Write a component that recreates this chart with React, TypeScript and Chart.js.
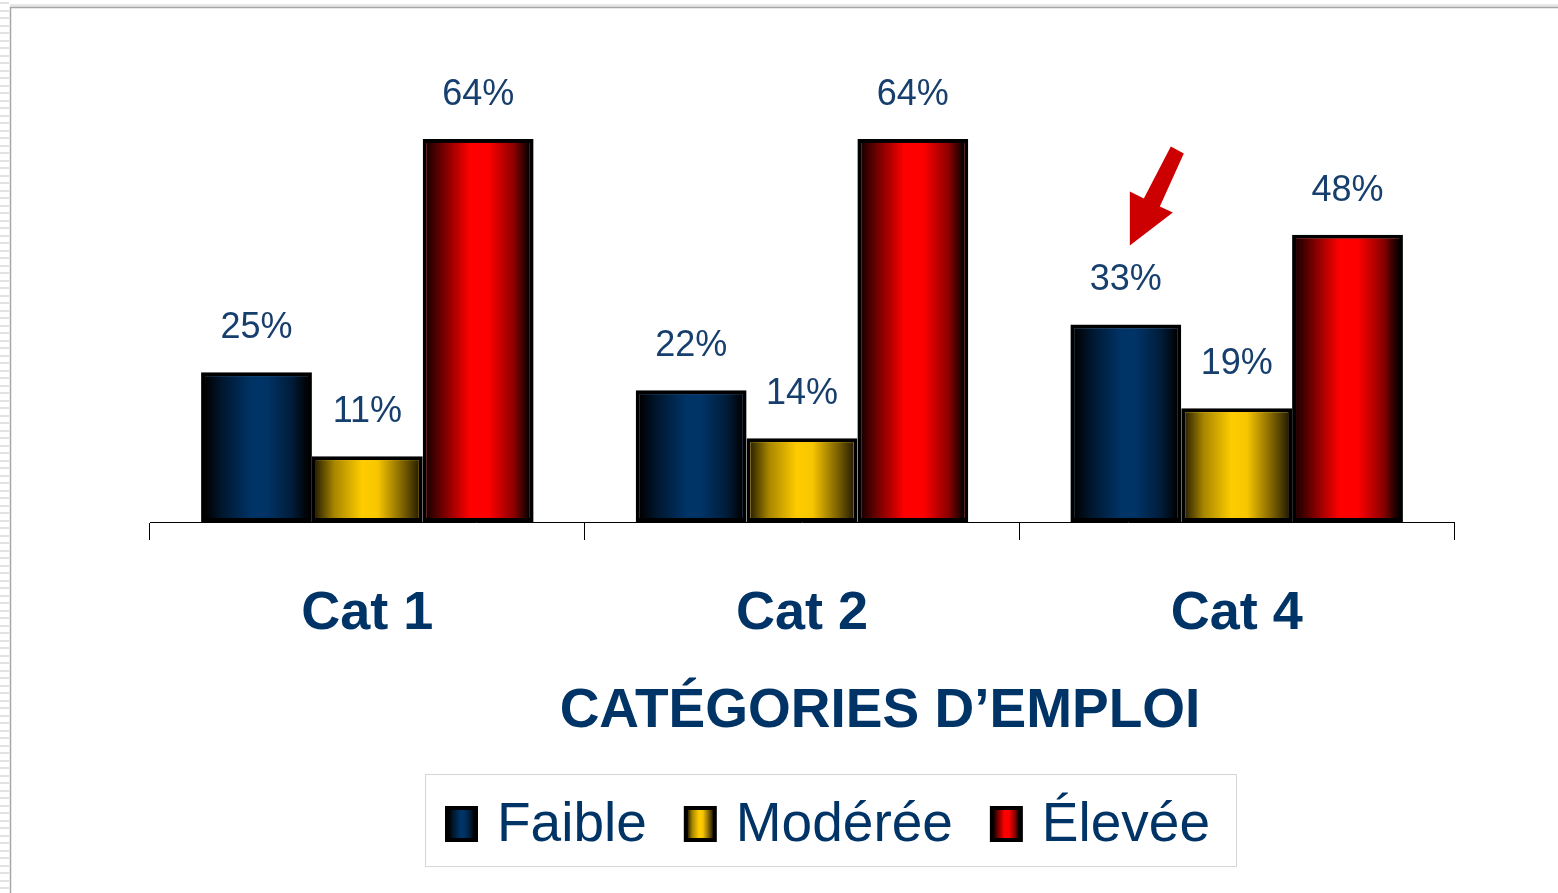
import React, { useEffect, useRef } from "react";
import { Chart, registerables } from "chart.js";

Chart.register(...registerables);

const categories = ["Cat 1", "Cat 2", "Cat 4"];
const seriesNames = ["Faible", "Modérée", "Élevée"];
const faible = [25, 22, 33];
const moderee = [11, 14, 19];
const elevee = [64, 64, 48];
const axisTitle = "CATÉGORIES D’EMPLOI";

const FONT = '"Liberation Sans", Arial, Helvetica, sans-serif';
const NAVY = "#003366";
const LABEL_COLOR = "#173f6d";
const BORDER = 4;

const solidColors = ["#003366", "#ffcc00", "#ff0000"];
const gradientStops: [number, string][][] = [
  [
    [0, "#000000"],
    [0.15, "#00152b"],
    [0.45, "#003366"],
    [0.6, "#003366"],
    [0.85, "#001c38"],
    [1, "#000000"],
  ],
  [
    [0, "#2e2400"],
    [0.18, "#a88600"],
    [0.45, "#ffcc00"],
    [0.6, "#f8c600"],
    [0.85, "#7a6000"],
    [1, "#2a2000"],
  ],
  [
    [0, "#1a0000"],
    [0.15, "#6e0000"],
    [0.42, "#ff0000"],
    [0.6, "#ff0000"],
    [0.85, "#8a0000"],
    [1, "#000000"],
  ],
];

function makeGradient(ctx: CanvasRenderingContext2D, x0: number, x1: number, idx: number) {
  const g = ctx.createLinearGradient(x0, 0, x1, 0);
  for (const [o, c] of gradientStops[idx]) g.addColorStop(o, c);
  return g;
}

const framePlugin = {
  id: "frame",
  beforeDraw(chart: any) {
    const { ctx, width, height } = chart;
    ctx.save();
    ctx.fillStyle = "#ffffff";
    ctx.fillRect(0, 0, width, height);
    ctx.fillStyle = "#e2e2e2";
    for (let y = 2; y < height; y += 7.5) {
      ctx.fillRect(0, Math.round(y), 9, 2);
    }
    ctx.fillStyle = "#e8e8e8";
    ctx.fillRect(10, 4, width - 10, 3);
    ctx.strokeStyle = "#a6a6a6";
    ctx.lineWidth = 1.5;
    ctx.beginPath();
    ctx.moveTo(10.5, height);
    ctx.lineTo(10.5, 7.5);
    ctx.lineTo(width, 7.5);
    ctx.stroke();
    ctx.restore();
  },
};

const barsPlugin = {
  id: "barsDecor",
  afterDatasetsDraw(chart: any) {
    const ctx: CanvasRenderingContext2D = chart.ctx;
    ctx.save();
    chart.data.datasets.forEach((ds: any, di: number) => {
      const meta = chart.getDatasetMeta(di);
      meta.data.forEach((el: any, i: number) => {
        const bw = BORDER;
        const left = el.x - el.width / 2;
        const right = el.x + el.width / 2;
        const top = el.y;
        const bottom = el.base;
        ctx.fillStyle = makeGradient(ctx, left + bw, right - bw, di);
        ctx.fillRect(left + bw, top + bw, right - left - 2 * bw, bottom - top - 2 * bw);
        ctx.fillStyle = LABEL_COLOR;
        ctx.font = `36px ${FONT}`;
        ctx.textAlign = "center";
        ctx.textBaseline = "middle";
        ctx.fillText(`${ds.data[i]}%`, el.x, el.y - 44);
      });
    });

    // arrow pointing to Cat 4 / Faible label
    const target = chart.getDatasetMeta(0).data[2];
    if (target) {
      const tx = target.x + 4;
      const ty = target.y - 79;
      const pts = [
        [41, -99],
        [54, -92],
        [30, -39],
        [43, -33],
        [0, 0],
        [0, -54],
        [14, -47],
      ];
      ctx.fillStyle = "#cc0000";
      ctx.beginPath();
      pts.forEach(([dx, dy], k) => {
        if (k === 0) ctx.moveTo(tx + dx, ty + dy);
        else ctx.lineTo(tx + dx, ty + dy);
      });
      ctx.closePath();
      ctx.fill();
    }

    ctx.restore();
  },
  afterDraw(chart: any) {
    const ctx: CanvasRenderingContext2D = chart.ctx;
    ctx.save();
    ctx.fillStyle = NAVY;
    ctx.font = `bold 55px ${FONT}`;
    ctx.textAlign = "center";
    ctx.textBaseline = "middle";
    ctx.fillText(axisTitle, 880, 712);

    ctx.strokeStyle = "#d6d6d6";
    ctx.lineWidth = 1;
    ctx.strokeRect(425.5, 774.5, 811, 92);

    ctx.font = `55px ${FONT}`;
    ctx.textAlign = "left";
    let x = 445;
    const sw = 33;
    const sh = 36;
    const cy = 824;
    seriesNames.forEach((name, i) => {
      ctx.fillStyle = "#000000";
      ctx.fillRect(x, cy - sh / 2, sw, sh);
      ctx.fillStyle = makeGradient(ctx, x + 4, x + sw - 4, i);
      ctx.fillRect(x + 4, cy - sh / 2 + 4, sw - 8, sh - 8);
      ctx.fillStyle = NAVY;
      ctx.fillText(name, x + sw + 19, cy + 2);
      x += sw + 19 + ctx.measureText(name).width + 37;
    });
    ctx.restore();
  },
};

export default function App() {
  const ref = useRef<HTMLCanvasElement | null>(null);

  useEffect(() => {
    if (!ref.current) return;
    const data = [faible, moderee, elevee];
    const chart = new Chart(ref.current, {
      type: "bar",
      data: {
        labels: categories,
        datasets: seriesNames.map((name, i) => ({
          label: name,
          data: data[i],
          backgroundColor: solidColors[i],
          borderColor: "#000000",
          borderWidth: BORDER,
          borderSkipped: false,
          barPercentage: 1,
          categoryPercentage: 0.765,
        })),
      },
      options: {
        responsive: true,
        maintainAspectRatio: false,
        animation: false,
        layout: { padding: { left: 150, right: 104, top: 103, bottom: 0 } },
        plugins: {
          legend: { display: false },
          tooltip: { enabled: false },
          title: { display: false },
        },
        scales: {
          x: {
            offset: true,
            grid: {
              offset: true,
              drawOnChartArea: false,
              drawTicks: true,
              tickLength: 18,
              color: "#000000",
              lineWidth: 1,
            },
            border: { display: true, color: "#000000", width: 1 },
            ticks: {
              color: NAVY,
              padding: 42,
              font: { family: FONT, size: 54, weight: "bold" },
              maxRotation: 0,
            },
            afterFit: (s: any) => {
              s.height = 371;
            },
          },
          y: {
            display: false,
            min: 0,
            max: 70,
          },
        },
      },
      plugins: [framePlugin, barsPlugin],
    });
    return () => chart.destroy();
  }, []);

  return (
    <div style={{ position: "fixed", left: 0, top: 0, width: 1558, height: 893 }}>
      <canvas ref={ref} />
    </div>
  );
}
